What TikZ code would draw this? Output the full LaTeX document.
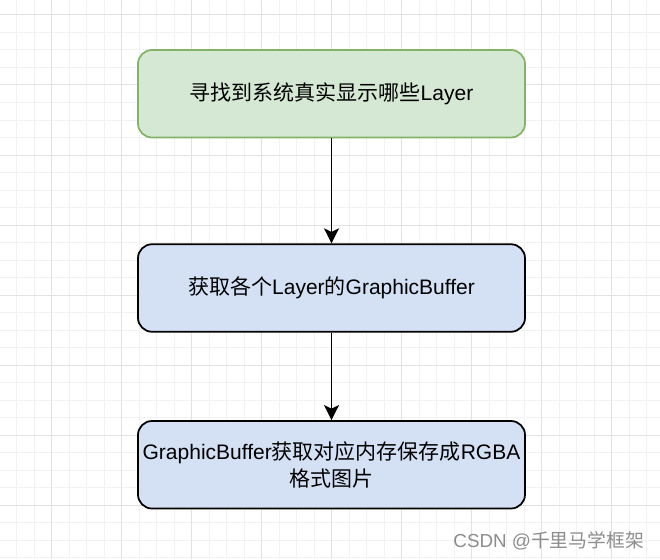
\documentclass[tikz,border=0pt]{standalone}
\usepackage{fontspec}
\setmainfont{Liberation Sans}
\newfontfamily\cjk{Noto Sans CJK SC}
\newcommand{\zh}[1]{{\cjk #1}}
\usepackage{tikz}
\usetikzlibrary{arrows.meta,positioning}
\definecolor{greenfill}{HTML}{D5E8D4}
\definecolor{greenline}{HTML}{82B366}
\definecolor{bluefill}{HTML}{D4E1F5}
\definecolor{gridminor}{HTML}{F2F2F2}
\definecolor{gridmajor}{HTML}{E2E2E2}

\begin{document}
\begin{tikzpicture}[x=1pt, y=-1pt,
    entry/.style={rectangle, draw=greenline, fill=greenfill, rounded corners=14pt, line width=1.75pt,
        minimum width=387pt, minimum height=87.5pt, inner sep=0pt, text centered,
        font=\fontsize{21}{27}\selectfont},
    stage/.style={rectangle, draw=black, fill=bluefill, rounded corners=14pt, line width=1.75pt,
        minimum width=387pt, minimum height=87.5pt, inner sep=0pt, align=center,
        font=\fontsize{21}{27}\selectfont},
    flow/.style={-{Stealth[length=15pt,width=15pt,inset=3.5pt]}, line width=1.9pt},
    mark text/.style={text=black!45, inner sep=0pt, font=\fontsize{18.8}{20}\selectfont}
    ]
    \useasboundingbox (0,0) rectangle (660,559);
    % background grid
    \foreach \k in {0,...,38} {
        \pgfmathsetmacro{\gx}{-0.8+17.5*\k}
        \draw[gridminor, line width=1pt] (\gx,0) -- (\gx,559);
    }
    \foreach \k in {-1,...,31} {
        \pgfmathsetmacro{\gy}{15+17.5*\k}
        \draw[gridminor, line width=1pt] (0,\gy) -- (660,\gy);
    }
    \foreach \k in {0,...,9} {
        \pgfmathsetmacro{\gx}{-18.3+70*\k}
        \draw[gridmajor, line width=1pt] (\gx,0) -- (\gx,559);
    }
    \foreach \k in {0,...,7} {
        \pgfmathsetmacro{\gy}{15+70*\k}
        \draw[gridmajor, line width=1pt] (0,\gy) -- (660,\gy);
    }

    % steps
    \node (Step01) [entry] at (331.5,93.75) {\zh{寻找到系统真实显示哪些}Layer};
    \node (Step02) [stage, below=105pt of Step01] {\zh{获取各个}Layer\zh{的}GraphicBuffer};
    \node (Step03) [stage, below=87.5pt of Step02]
        {GraphicBuffer\zh{获取对应内存保存成}RGBA\\\zh{格式图片}};

    \draw[flow] (Step01) -- (Step02);
    \draw[flow] (Step02) -- (Step03);

    \node (Mark) [mark text, anchor=east] at (644,541) {CSDN @\zh{千里马学框架}};
\end{tikzpicture}
\end{document}
